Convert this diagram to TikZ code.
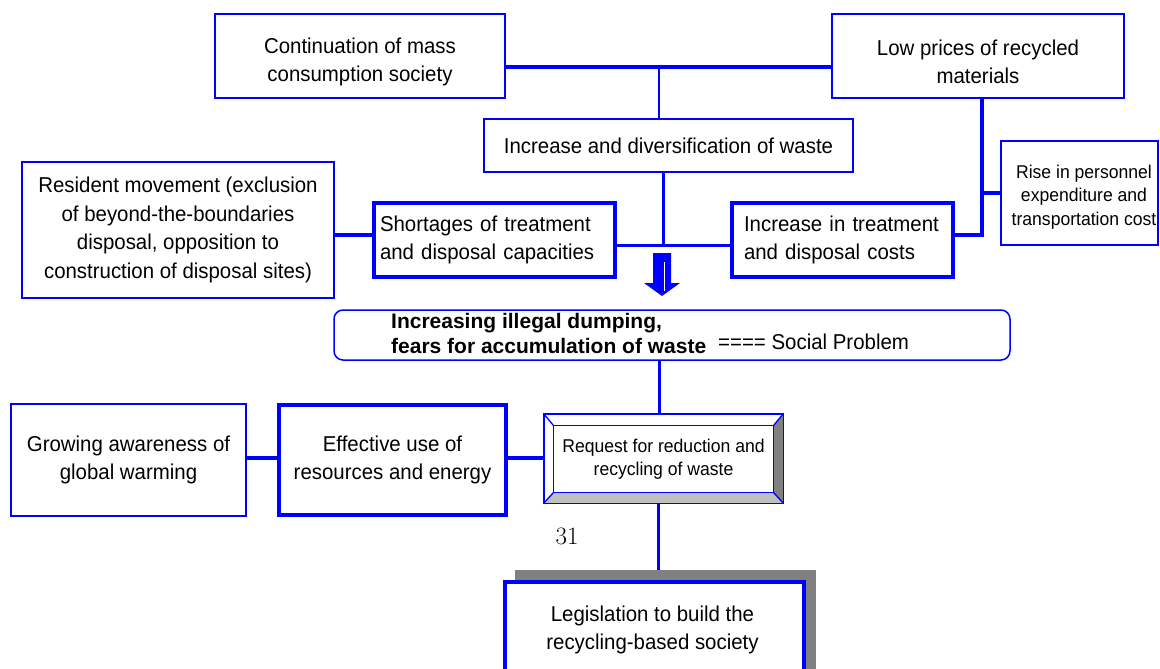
\documentclass[tikz,border=0pt]{standalone}
\usepackage{fontspec}
\usetikzlibrary{calc}
\newfontfamily\arial{Liberation Sans}[FakeStretch=0.95]
\newfontfamily\arialbold{Liberation Sans}
\definecolor{bl}{RGB}{0,0,255}
\definecolor{dkgray}{RGB}{128,128,128}
\definecolor{ltgray}{RGB}{192,192,192}
\tikzset{
  txt/.style={font=\arial\fontsize{21.5}{28.5}\selectfont},
  smalltxt/.style={font=\arial\fontsize{18.5}{23.5}\selectfont},
  boxbase/.style={draw=bl, fill=white, inner sep=0pt, align=center, txt},
  thinbox/.style={boxbase, line width=1.5pt},
  midbox/.style={boxbase, line width=2pt},
  fatbox/.style={boxbase, line width=3.5pt},
  label/.style={txt, align=center, inner sep=0pt},
  thk/.style={draw=bl, line width=4pt},
  med/.style={draw=bl, line width=3pt},
  bev/.style={draw=bl, line width=1.3pt, line join=miter},
}
\begin{document}
\begin{tikzpicture}[x=1pt,y=-1pt]
\useasboundingbox (0,0) rectangle (1160,669);
% junction coordinates
\coordinate (jTop) at (659,67);
\coordinate (jMid) at (663,245);
\coordinate (jF) at (354,235);
\coordinate (jB) at (982,235);
\coordinate (jG) at (982,193);
\coordinate (jJ) at (0,458);
\coordinate (jL) at (658,0);
% nodes
\node[midbox, minimum width=290pt, minimum height=84pt] (A) at (360,56) {};
\node[label] (At) at (360,62) {Continuation of mass\\consumption society};
\node[midbox, minimum width=292pt, minimum height=84pt] (B) at (978,56) {};
\node[label] (Bt) at (978,62) {Low prices of recycled\\materials};
\node[thinbox, minimum width=369pt, minimum height=53pt] (C) at (668.5,145.5) {Increase and diversification of waste};
\node[fatbox, minimum width=241pt, minimum height=74pt, text width=229pt, align=left] (D) at (494.5,240) {Shortages of treatment\\and disposal capacities};
\node[fatbox, minimum width=221pt, minimum height=74pt, text width=197pt, align=left] (E) at (842.5,240) {Increase in treatment\\and disposal costs};
\node[thinbox, minimum width=312pt, minimum height=136pt] (F) at (178,230) {Resident movement (exclusion\\of beyond-the-boundaries\\disposal, opposition to\\construction of disposal sites)};
\node[thinbox, minimum width=157pt, minimum height=104pt] (G) at (1079.5,193) {};
\node[smalltxt, align=center, inner sep=0pt] (Gt) at (1084,197) {Rise in personnel\\expenditure and\\transportation cost};
\node[draw=bl, line width=1.5pt, rounded corners=9pt, minimum width=676pt, minimum height=50pt, inner sep=0pt] (H) at (672,335) {};
\node[anchor=west, align=left, inner sep=0pt, font=\arialbold\bfseries\fontsize{21}{25}\selectfont] (Ht) at (391,333) {Increasing illegal dumping,\\fears for accumulation of waste};
\node[anchor=west, inner sep=0pt, txt] (Hs) at (718,342) {==== Social Problem};
\node[fatbox, minimum width=227pt, minimum height=110pt] (J) at (392.5,460) {Effective use of\\resources and energy};
\node[thinbox, minimum width=235pt, minimum height=112pt] (K) at (128.5,460) {Growing awareness of\\global warming};
% bevel box I
\node[draw=bl, line width=1.3pt, fill=white, minimum width=239pt, minimum height=89pt, inner sep=0pt] (I) at (663.5,458.5) {};
\coordinate (Inw) at ($(I.north west)+(10,12)$);
\coordinate (Ine) at ($(I.north east)+(-10,12)$);
\coordinate (Ise) at ($(I.south east)+(-10,-11)$);
\coordinate (Isw) at ($(I.south west)+(10,-11)$);
\fill[dkgray] (I.north east) -- (I.south east) -- (Ise) -- (Ine) -- cycle;
\fill[ltgray] (I.south west) -- (I.south east) -- (Ise) -- (Isw) -- cycle;
\draw[bev] (I.north west) rectangle (I.south east);
\draw[bev] (Inw) rectangle (Ise);
\draw[bev] (I.north west) -- (Inw);
\draw[bev] (I.north east) -- (Ine);
\draw[bev] (I.south east) -- (Ise);
\draw[bev] (I.south west) -- (Isw);
\node[smalltxt, align=center, inner sep=0pt] (It) at (663.5,459) {Request for reduction and\\recycling of waste};
% page number
\node[font=\fontsize{25}{30}\selectfont, inner sep=0pt] (pn) at (567,536) {31};
% legislation box with shadow
\node[fill=dkgray, minimum width=301pt, minimum height=130pt, inner sep=0pt] (Ls) at (665.5,635) {};
\node[fatbox, minimum width=299pt, minimum height=120pt] (L) at (654.5,642) {};
\node[label] (Lt) at (652.5,630) {Legislation to build the\\recycling-based society};
% block arrow
\fill[bl] (653,253) -- (671,253) -- (671,283) -- (680,283) -- (662,296) -- (644,283) -- (653,283) -- cycle;
\draw[white, line width=0.8pt] (664,262) -- (664,291);
% connectors
\draw[thk] (A.east |- jTop) -- (B.west |- jTop);
\draw[med, line width=2.5pt] (jTop) -- (jTop |- C.north);
\draw[med] (C.south -| jMid) -- (jMid);
\draw[med] (D.east |- jMid) -- (E.west |- jMid);
\draw[thk] (F.east |- jF) -- (D.west |- jF);
\draw[thk] (B.south -| jB) -- (jB) -- (E.east |- jB);
\draw[thk] (jG) -- (G.west |- jG);
\draw[med] (H.south -| jTop) -- (I.north -| jTop);
\draw[thk] (K.east |- jJ) -- (J.west |- jJ);
\draw[thk] (J.east |- jJ) -- (I.west |- jJ);
\draw[med] (I.south -| jL) -- (Ls.north -| jL);
\end{tikzpicture}
\end{document}
